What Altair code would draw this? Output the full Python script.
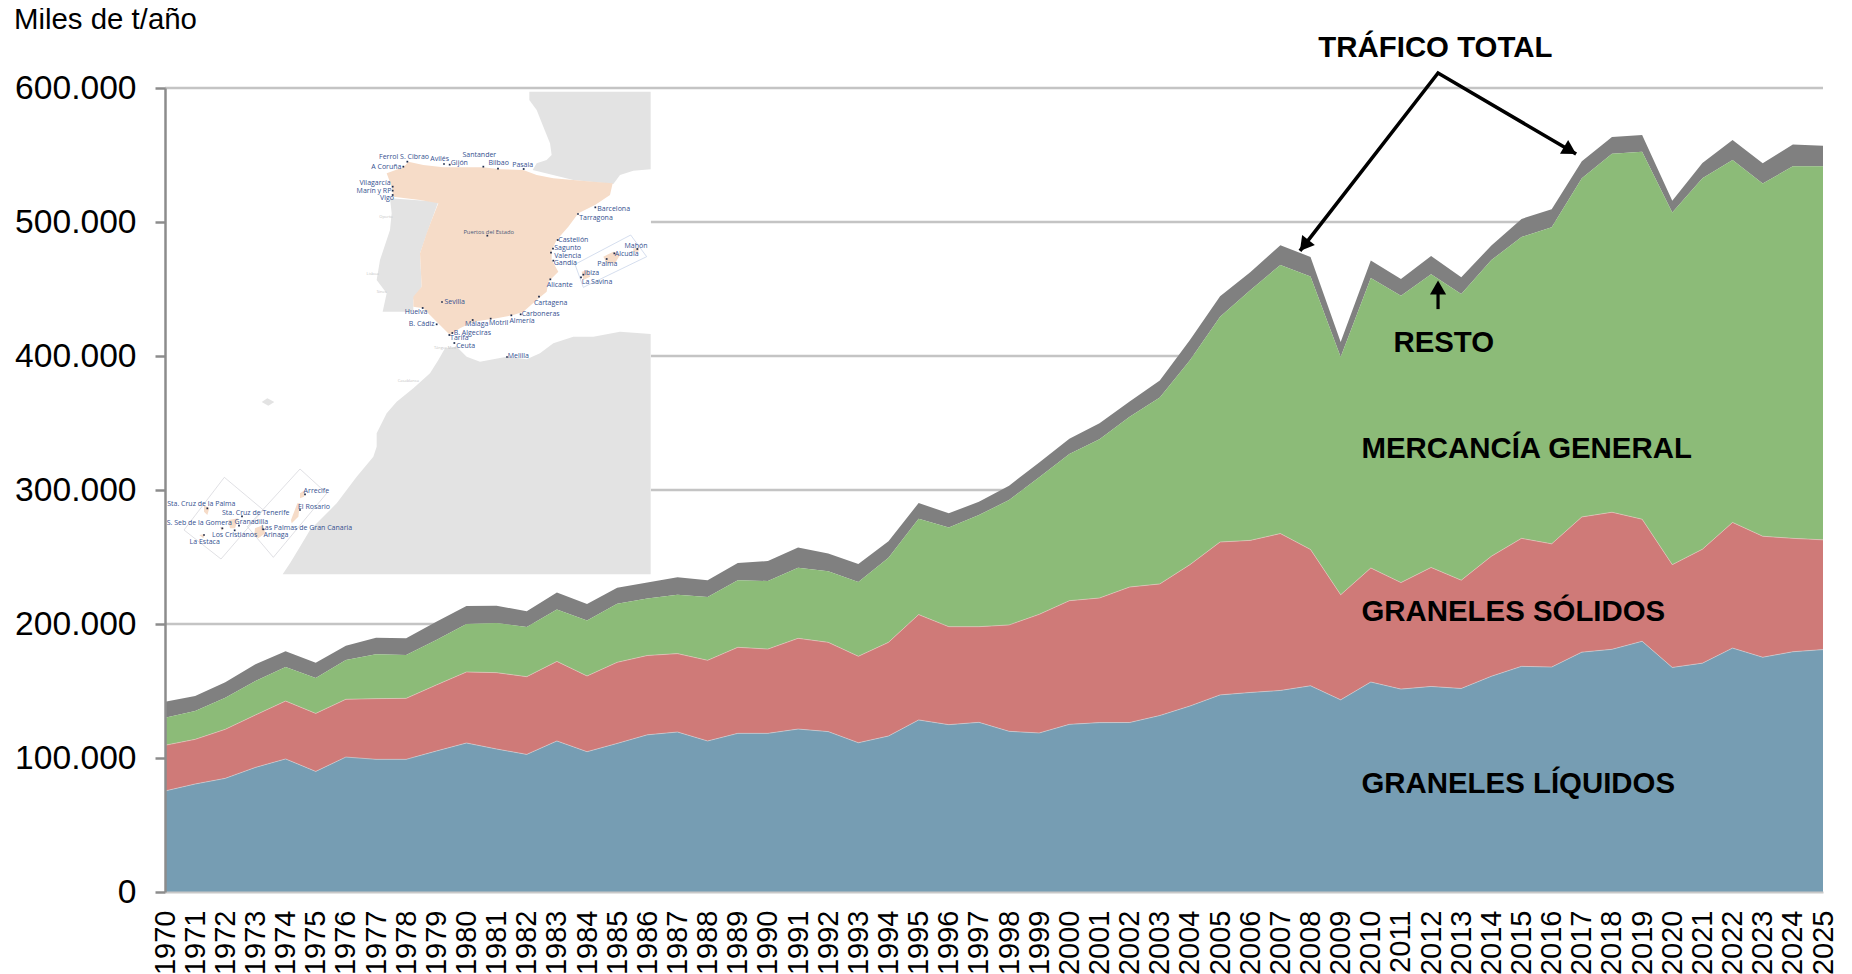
import altair as alt
import pandas as pd

FONT = "Liberation Sans"

# ---------- series, thousands of t/year (cumulative boundaries)
years = list(range(1970, 2026))
liquidos = [75.4, 80.6, 84.8, 93.0, 99.3, 90.0, 100.7, 99.0, 99.0, 105.2, 111.2, 106.7, 102.7, 112.7, 104.7, 110.9,
            117.3, 119.4, 112.7, 118.4, 118.4, 121.6, 119.7, 111.4, 116.4, 128.4, 124.9, 126.6, 119.9, 118.7, 125.1, 126.4,
            126.5, 131.7, 138.8, 147.1, 148.9, 150.4, 153.9, 143.4, 156.7, 151.4, 153.4, 151.9, 161.0, 168.4, 167.9, 179.0,
            181.1, 187.1, 167.6, 170.8, 182.0, 175.2, 179.3, 180.9]
solidos = [109.5, 113.9, 121.4, 132.1, 142.5, 133.3, 143.8, 144.3, 144.5, 154.5, 164.2, 163.7, 160.7, 172.1, 161.2, 171.4,
           176.5, 177.9, 172.9, 182.6, 181.3, 189.3, 186.3, 175.9, 186.3, 207.0, 198.0, 198.0, 199.3, 207.2, 217.4, 219.4,
           227.6, 229.9, 244.3, 261.2, 262.4, 267.5, 255.6, 221.8, 241.8, 230.9, 242.2, 232.7, 250.6, 263.9, 259.8, 279.9,
           283.4, 278.2, 244.3, 255.8, 275.8, 265.5, 263.9, 262.8]
general = [130.1, 135.1, 145.0, 157.5, 167.9, 159.7, 173.1, 177.4, 176.9, 188.1, 200.0, 200.7, 197.8, 210.9, 202.7, 215.2,
           219.0, 221.9, 220.1, 232.6, 232.1, 242.0, 239.3, 231.3, 249.5, 278.6, 272.1, 281.3, 292.5, 309.5, 326.9, 337.8,
           354.7, 369.1, 396.9, 429.2, 449.1, 468.0, 459.4, 399.2, 458.2, 445.0, 461.0, 446.3, 471.6, 488.8, 496.1, 532.7,
           550.9, 552.5, 507.0, 532.7, 546.3, 528.7, 541.6, 541.6]
total = [142.0, 146.3, 156.5, 169.9, 179.6, 171.1, 183.8, 189.8, 189.3, 201.7, 213.4, 213.7, 209.5, 223.6, 214.9, 227.1,
         231.0, 234.8, 232.6, 245.5, 247.0, 257.0, 252.7, 244.8, 261.7, 290.3, 282.6, 291.3, 303.2, 320.6, 338.3, 349.8,
         366.0, 381.8, 412.0, 444.6, 462.5, 482.7, 473.9, 410.5, 471.3, 457.5, 474.6, 458.7, 482.5, 502.3, 509.6, 545.4,
         563.4, 565.0, 515.9, 544.1, 561.2, 543.9, 557.9, 556.9]
y_ticks = [0, 100000, 200000, 300000, 400000, 500000, 600000]

# ---------- texts on the chart (year, value in t)
bold_texts = ["TRÁFICO TOTAL", "RESTO", "MERCANCÍA GENERAL", "GRANELES SÓLIDOS", "GRANELES LÍQUIDOS"]
bold_year = [2008.26, 2010.75, 2009.69, 2009.69, 2009.69]
bold_val = [623500, 403300, 323900, 202400, 73900]

# ---------- arrows (year, value in t)
arrow_year = [2007.65, 2012.23, 2016.81]
arrow_val = [478400, 611200, 550700]
resto_year = [2012.23, 2012.23]
resto_val = [435000, 451000]
head_year = [2007.79, 2016.61, 2012.23]
head_val = [482500, 553400, 451100]
head_angle = [218, 120.4, 0]

# ---------- inset map, in the map's own units
grey_land = [
    [(1108, 35), (1472, 35), (1472, 268), (1420, 272), (1380, 285), (1360, 312), (1240, 300), (1118, 270), (1130, 250),
     (1160, 240), (1175, 225), (1170, 190), (1150, 140), (1130, 90), (1108, 60)],
    [(690, 355), (835, 365), (815, 420), (780, 520), (785, 620), (760, 660), (760, 695), (700, 695), (668, 695),
     (680, 640), (650, 600), (660, 540), (690, 450), (695, 400)],
    [(1472, 762), (1380, 755), (1300, 770), (1240, 770), (1180, 790), (1140, 820), (1100, 838), (1040, 830), (960, 845),
     (920, 830), (890, 800), (855, 805), (835, 840), (810, 880), (760, 925), (710, 965), (680, 1000), (650, 1060),
     (650, 1100), (640, 1130), (590, 1190), (530, 1270), (450, 1350), (420, 1400), (390, 1450), (368, 1483), (1472, 1483)],
    [(305, 966), (322, 955), (343, 966), (325, 977)],
]
peach_land = [
    [(680, 280), (730, 262), (745, 245), (790, 255), (850, 262), (900, 262), (970, 262), (1020, 268), (1090, 270),
     (1130, 285), (1180, 295), (1240, 300), (1300, 305), (1358, 310), (1350, 345), (1305, 375), (1255, 400), (1225, 440),
     (1190, 480), (1175, 510), (1175, 540), (1195, 575), (1165, 605), (1160, 635), (1130, 660), (1090, 695), (1060, 705),
     (1010, 715), (940, 725), (900, 745), (870, 765), (845, 740), (815, 710), (790, 685), (760, 680), (760, 650),
     (785, 620), (780, 520), (800, 460), (815, 420), (835, 370), (780, 360), (700, 350), (695, 320)],
    [(1330, 530), (1360, 515), (1380, 525), (1365, 550), (1340, 550)],
    [(1265, 575), (1285, 570), (1290, 590), (1270, 600)],
    [(1420, 505), (1438, 505), (1435, 515), (1420, 515)],
    [(132, 1275), (148, 1285), (142, 1305), (132, 1295)],
    [(205, 1320), (235, 1315), (225, 1345), (210, 1345)],
    [(180, 1340), (192, 1345), (185, 1352)],
    [(118, 1365), (135, 1362), (130, 1375)],
    [(285, 1345), (310, 1335), (315, 1360), (295, 1375), (283, 1365)],
    [(412, 1270), (420, 1270), (415, 1310), (395, 1330), (393, 1320)],
    [(420, 1240), (435, 1230), (432, 1250), (420, 1255)],
]
box_blue = [[(1245, 553), (1412, 465), (1460, 530), (1270, 622)]]
box_grey = [[(72, 1350), (193, 1192), (310, 1290), (183, 1437)],
            [(262, 1340), (420, 1167), (500, 1240), (340, 1432)]]

port_names = ["Ferrol S. Cibrao", "A Coruña", "Avilés", "Gijón", "Santander", "Bilbao", "Pasaia", "Vilagarcía",
              "Marín y RP", "Vigo", "Barcelona", "Tarragona", "Castellón", "Sagunto", "Valencia", "Gandía",
              "Mahón", "Alcudia", "Palma", "Ibiza", "La Savina", "Alicante", "Cartagena", "Sevilla", "Huelva",
              "Carboneras", "Almería", "Motril", "Málaga", "B. Cádiz", "B. Algeciras", "Tarifa", "Ceuta", "Melilla",
              "Arrecife", "El Rosario", "Sta. Cruz de la Palma", "Sta. Cruz de Tenerife", "Granadilla",
              "S. Seb de la Gomera", "Las Palmas de Gran Canaria", "Los Cristianos", "Arinaga", "La Estaca"]
port_lx = [732, 679, 839, 898, 958, 1016, 1088, 645, 642, 681, 1361, 1308, 1240, 1223, 1223, 1216,
           1428, 1400, 1342, 1295, 1311, 1199, 1172, 884, 768, 1142, 1086, 1016, 950, 785, 937, 898, 917, 1075,
           469, 462, 124, 287, 274, 118, 440, 224, 348, 134]
port_ly = [232, 262, 238, 249, 225, 250, 254, 310, 333, 355, 388, 415, 480, 505, 527, 550,
           497, 522, 552, 579, 605, 614, 668, 666, 697, 703, 724, 730, 733, 733, 759, 775, 799, 829,
           1232, 1280, 1272, 1298, 1326, 1330, 1344, 1365, 1365, 1385]
faint_names = ["Oporto", "Lisboa", "Sines", "Tánger Med", "Casablanca"]
faint_lx = [678, 638, 665, 855, 745]
faint_ly = [412, 582, 636, 805, 903]
centre_name = ["Puertos del Estado"]
centre_lx = [986]
centre_ly = [456]
dot_x = [730, 742, 852, 869, 970, 1014, 1091, 698, 698, 698, 1306, 1254, 982, 1193, 1179, 1173, 1180, 1432, 1363, 1340,
         1270, 1263, 1171, 1137, 846, 788, 1082, 1054, 992, 938, 830, 877, 868, 883, 1041, 435, 420, 142, 246, 237, 187,
         310, 224, 132]
dot_y = [260, 245, 252, 254, 260, 266, 267, 320, 332, 345, 382, 402, 467, 480, 506, 518, 542, 507, 520, 537,
         584, 592, 598, 650, 666, 684, 703, 706, 716, 720, 733, 759, 765, 789, 831, 1243, 1290, 1285, 1309, 1337, 1345,
         1348, 1351, 1365]

# ---------- tables
df = pd.DataFrame({"year": years, "liq": liquidos, "sol": solidos, "gen": general, "tot": total})
for c in ["liq", "sol", "gen", "tot"]:
    df[c] = df[c] * 1000
df["zero"] = 0


def features(polys):
    return [{"type": "Feature", "properties": {},
             "geometry": {"type": "Polygon", "coordinates": [[list(p) for p in poly] + [list(poly[0])]]}}
            for poly in polys]


sx = alt.Scale(domain=[1970, 2025], nice=False, zero=False)
sy = alt.Scale(domain=[0, 600000], nice=False)
x_axis = alt.Axis(values=years, format="d", labelAngle=270, labelFont=FONT, labelFontSize=29, labelColor="black",
                  labelPadding=18, labelOverlap=False, labelFlush=False, labelBound=False, ticks=False, grid=False,
                  domainColor="#c8c8c8", domainWidth=2, title=None, zindex=1)
y_axis = alt.Axis(values=y_ticks, labelExpr="replace(format(datum.value, ','), ',', '.')", labelFont=FONT,
                  labelFontSize=33.6, labelColor="black", labelPadding=19, tickSize=10, tickWidth=2.5,
                  tickColor="#8c8c8c", domainColor="#8c8c8c", domainWidth=2.5, grid=False,
                  title=None, zindex=1, labelOverlap=False)
X = alt.X("year:Q", scale=sx, axis=x_axis)
Y = lambda f: alt.Y(f"{f}:Q", scale=sy, axis=y_axis)

# gridlines and the white panel behind the inset map
grid = alt.Chart(pd.DataFrame({"v": y_ticks[1:]})).mark_rule(color="#c4c4c4", strokeWidth=2.5).encode(y=Y("v"))
panel_df = pd.DataFrame({"a": [1970], "b": [1986.12], "c": [237300], "d": [597000]})
panel = alt.Chart(panel_df).mark_rect(fill="white").encode(
    x=alt.X("a:Q", scale=sx, axis=x_axis), x2="b:Q", y=Y("c"), y2="d:Q")


def geo(polys, **kw):
    return alt.Chart(alt.Data(values=features(polys))).mark_geoshape(**kw).project(
        type="identity", scale=1 / 3, translate=[-5, -8])


map_grey = geo(grey_land, fill="#e3e3e3", strokeWidth=0)
map_peach = geo(peach_land, fill="#f6dcc8", strokeWidth=0)
map_box1 = geo(box_blue, filled=False, stroke="#c3d0e6", strokeWidth=0.7)
map_box2 = geo(box_grey, filled=False, stroke="#d2d2d8", strokeWidth=0.7)


def map_text(names, lx, ly, color, size):
    t = pd.DataFrame({"n": names, "lx": lx, "ly": ly})
    return alt.Chart(t).mark_text(font="Open Sans", fontSize=size, color=color, align="center", baseline="middle").encode(
        longitude="lx:Q", latitude="ly:Q", text="n:N").project(type="identity", scale=1 / 3, translate=[-5, -8])


map_ports = map_text(port_names, port_lx, port_ly, "#34508f", 7)
map_centre = map_text(centre_name, centre_lx, centre_ly, "#4a5a78", 5.8)
map_faint = map_text(faint_names, faint_lx, faint_ly, "#c4c4c4", 4)
map_dots = alt.Chart(pd.DataFrame({"lx": dot_x, "ly": dot_y})).mark_square(size=3, color="#1c2a4a", opacity=1).encode(
    longitude="lx:Q", latitude="ly:Q").project(type="identity", scale=1 / 3, translate=[-5, -8])

# stacked bands
a_tot = alt.Chart(df).mark_area(color="#808080", opacity=1).encode(x=X, y=Y("gen"), y2="tot:Q")
a_gen = alt.Chart(df).mark_area(color="#8cbb78", opacity=1).encode(x=X, y=Y("sol"), y2="gen:Q")
a_sol = alt.Chart(df).mark_area(color="#cf7a78", opacity=1).encode(x=X, y=Y("liq"), y2="sol:Q")
a_liq = alt.Chart(df).mark_area(color="#769db3", opacity=1).encode(x=X, y=Y("zero"), y2="liq:Q")
l_liq = alt.Chart(df).mark_line(color="#e2d4d4", strokeWidth=0.7, opacity=0.8).encode(x=X, y=Y("liq"))
l_sol = alt.Chart(df).mark_line(color="#e2d4c8", strokeWidth=0.7, opacity=0.8).encode(x=X, y=Y("sol"))

# arrows
arrow_df = pd.DataFrame({"year": arrow_year, "v": arrow_val, "o": [0, 1, 2]})
arrow = alt.Chart(arrow_df).mark_line(color="black", strokeWidth=3.6, strokeJoin="miter").encode(
    x=X, y=Y("v"), order="o:Q")
resto_df = pd.DataFrame({"year": resto_year, "v": resto_val})
resto_arrow = alt.Chart(resto_df).mark_line(color="black", strokeWidth=3.2).encode(x=X, y=Y("v"))
head_df = pd.DataFrame({"year": head_year, "v": head_val, "a": head_angle})
heads = alt.Chart(head_df).mark_point(shape="triangle-up", filled=True, color="black", opacity=1, size=260).encode(
    x=X, y=Y("v"), angle=alt.Angle("a:Q", scale=None))

# texts
txt_df = pd.DataFrame({"year": bold_year, "v": bold_val, "t": bold_texts})
texts = alt.Chart(txt_df).mark_text(font=FONT, fontSize=29.4, fontWeight="bold", color="black", align="left",
                                    baseline="alphabetic").encode(x=X, y=Y("v"), text="t:N")
unit_df = pd.DataFrame({"year": [1964.99], "v": [644000], "t": ["Miles de t/año"]})
unit = alt.Chart(unit_df).mark_text(font=FONT, fontSize=29.4, color="black", align="left",
                                    baseline="alphabetic").encode(x=X, y=Y("v"), text="t:N")

chart = alt.layer(
    grid, panel, map_grey, map_peach, map_box1, map_box2, map_faint, map_centre, map_ports, map_dots,
    a_tot, a_gen, a_sol, a_liq, l_liq, l_sol, arrow, resto_arrow, heads, texts, unit
).properties(
    width=1658, height=804,
    autosize=alt.AutoSizeParams(type="none"),
    padding={"left": 157, "top": 80, "right": 21, "bottom": 82},
    background="white",
).configure_view(stroke=None).configure_axis(labelOverlap=False)

chart.save("out.html", embed_options={"renderer": "svg", "actions": False})
